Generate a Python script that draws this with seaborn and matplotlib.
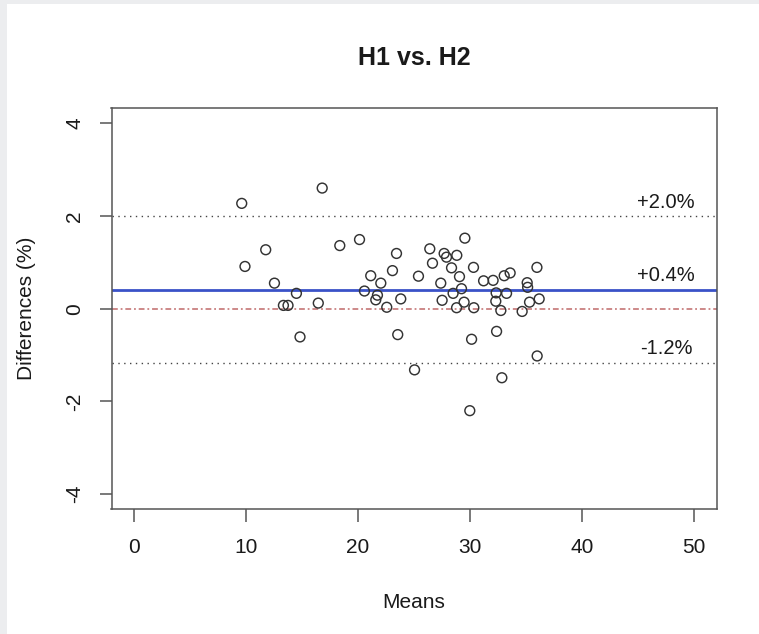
import matplotlib
matplotlib.use("Agg")
import matplotlib.pyplot as plt
from matplotlib.patches import Rectangle
import seaborn as sns
import pandas as pd

# ---- data ----
means = [9.62, 9.91, 11.76, 12.54, 13.34, 13.75, 14.50, 14.82, 16.45, 16.80,
         18.37, 20.13, 20.57, 21.13, 22.03, 21.73, 21.58, 22.56, 23.07, 23.43,
         23.54, 23.81, 25.04, 25.39, 26.40, 26.64, 27.38, 27.50, 27.68, 27.89,
         28.34, 28.48, 28.79, 28.81, 29.05, 29.23, 29.46, 29.53, 29.97, 30.13,
         30.33, 30.30, 31.20, 32.05, 32.32, 32.29, 32.36, 32.74, 32.83, 33.04,
         33.25, 33.57, 34.64, 35.09, 35.13, 35.30, 35.96, 36.16, 35.98]
diffs = [2.27, 0.91, 1.27, 0.55, 0.07, 0.07, 0.33, -0.61, 0.12, 2.60,
         1.36, 1.49, 0.38, 0.71, 0.55, 0.29, 0.19, 0.03, 0.82, 1.19,
         -0.56, 0.21, -1.32, 0.70, 1.29, 0.98, 0.55, 0.18, 1.19, 1.11,
         0.88, 0.33, 0.02, 1.15, 0.69, 0.43, 0.14, 1.52, -2.20, -0.66,
         0.02, 0.89, 0.60, 0.61, 0.34, 0.16, -0.49, -0.04, -1.49, 0.71,
         0.33, 0.77, -0.06, 0.56, 0.46, 0.14, 0.89, 0.21, -1.02]
mean_diff = 0.41
upper_loa = 1.99
lower_loa = -1.17
loa_labels = ["+2.0%", "+0.4%", "-1.2%"]
x_ticks = [0, 10, 20, 30, 40, 50]
y_ticks = [-4, -2, 0, 2, 4]
title = "H1 vs. H2"
x_label = "Means"
y_label = "Differences (%)"

df = pd.DataFrame({"Means": means, "Differences": diffs})

sns.set_theme(style="ticks")
plt.rcParams["font.family"] = ["Liberation Sans", "DejaVu Sans"]
plt.rcParams["axes.unicode_minus"] = False
plt.rcParams["text.color"] = "#1a1a1a"
plt.rcParams["axes.labelcolor"] = "#1a1a1a"
plt.rcParams["xtick.color"] = "#555555"
plt.rcParams["ytick.color"] = "#555555"
plt.rcParams["xtick.labelcolor"] = "#1a1a1a"
plt.rcParams["ytick.labelcolor"] = "#1a1a1a"

W, H = 759, 634
fig = plt.figure(figsize=(W / 100, H / 100), dpi=100, facecolor="#ecedef")
fig.patches.append(Rectangle((7 / W, 0), 1, (H - 4) / H, transform=fig.transFigure,
                             facecolor="white", edgecolor="none", zorder=-10))

ax = fig.add_axes([111.5 / W, (H - 509) / H, (716.7 - 111.5) / W, (509 - 108.3) / H])
ax.set_facecolor("white")

# reference lines
ax.axhline(upper_loa, color="#444444", lw=1.0, linestyle=(0, (1, 3.2)), zorder=1)
ax.axhline(lower_loa, color="#444444", lw=1.0, linestyle=(0, (1, 3.2)), zorder=1)
ax.axhline(0, color="#c98080", lw=1.3, linestyle=(0, (3.2, 1.6, 1, 1.6)), zorder=1)
ax.axhline(mean_diff, color="#3a52c8", lw=2.0, zorder=2)

sns.scatterplot(data=df, x="Means", y="Differences", ax=ax, marker="o", s=50,
                facecolor="none", edgecolor="#333333", linewidth=1.05, zorder=3)

for val, lab in zip([upper_loa, mean_diff, lower_loa], loa_labels):
    ax.text(47.5, val + 0.3, lab, ha="center", va="center", fontsize=14.5,
            color="#1a1a1a")

ax.set_xlim(-2, 52)
ax.set_ylim(-4.32, 4.32)
ax.set_xticks(x_ticks)
ax.set_yticks(y_ticks)
ax.tick_params(axis="x", length=9, width=1.1, pad=12, labelsize=15)
ax.tick_params(axis="y", length=9, width=1.1, pad=10.5, labelsize=15, labelrotation=90)
for lbl in ax.get_yticklabels():
    lbl.set_va("center")

for sp in ax.spines.values():
    sp.set_visible(True)
    sp.set_color("#555555")
    sp.set_linewidth(1.1)

ax.set_xlabel(x_label, fontsize=15, labelpad=26)
ax.set_ylabel(y_label, fontsize=15, labelpad=21)

fig.text(414 / W, 1 - 58 / H, title, ha="center", va="center", fontsize=18,
         fontweight="bold", color="#1a1a1a")

fig.savefig("out.png", dpi=100, facecolor=fig.get_facecolor())
